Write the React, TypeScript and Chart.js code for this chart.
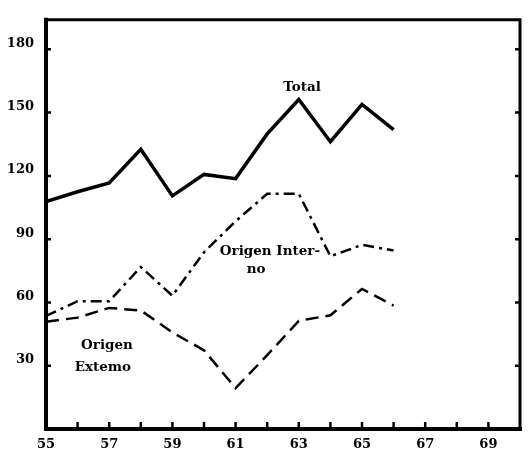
import React, { useEffect, useRef } from "react";
import { Chart, registerables } from "chart.js";

Chart.register(...registerables);

const years = [55, 56, 57, 58, 59, 60, 61, 62, 63, 64, 65, 66];
const total = [107.8, 112.5, 116.6, 132.6, 110.5, 120.7, 118.7, 139.9, 156.2, 136.2, 153.9, 141.9];
const interno = [53.6, 60.6, 60.6, 76.8, 63.2, 83.8, 98.5, 111.5, 111.5, 81.9, 87.3, 84.6];
const externo = [50.9, 52.8, 57.4, 56.2, 45.8, 37.3, 19.4, 35.0, 51.3, 53.9, 66.4, 58.5];
const yTicks = [30, 60, 90, 120, 150, 180];
const xTickYears = [56, 57, 58, 59, 60, 61, 62, 63, 64, 65, 66, 67, 68, 69];
const labels = [
  { text: "Total", x: 63.1, y: 162, align: "center" },
  { text: "Origen Inter-", x: 60.5, y: 84, align: "left" },
  { text: "no", x: 61.65, y: 75.5, align: "center" },
  { text: "Origen", x: 56.93, y: 39.8, align: "center" },
  { text: "Extemo", x: 56.8, y: 29, align: "center" },
];

const FONT = "'DejaVu Serif', 'Liberation Serif', serif";

const framePlugin = {
  id: "frame",
  afterDraw(chart: any) {
    const { ctx, chartArea: a, scales } = chart;
    const xs = scales.x;
    const ys = scales.y;
    ctx.save();
    ctx.strokeStyle = "#000";
    ctx.lineCap = "square";
    ctx.lineWidth = 4;
    ctx.beginPath();
    ctx.moveTo(a.left, a.top);
    ctx.lineTo(a.left, a.bottom);
    ctx.lineTo(a.right, a.bottom);
    ctx.stroke();
    ctx.lineWidth = 3;
    ctx.beginPath();
    ctx.moveTo(a.left, a.top);
    ctx.lineTo(a.right, a.top);
    ctx.lineTo(a.right, a.bottom);
    ctx.stroke();
    ctx.lineWidth = 2.5;
    ctx.lineCap = "butt";
    for (const v of xTickYears) {
      const px = xs.getPixelForValue(v);
      ctx.beginPath();
      ctx.moveTo(px, a.bottom);
      ctx.lineTo(px, a.bottom - 7);
      ctx.stroke();
    }
    for (const v of yTicks) {
      const py = ys.getPixelForValue(v);
      ctx.beginPath();
      ctx.moveTo(a.left, py);
      ctx.lineTo(a.left + 5, py);
      ctx.moveTo(a.right, py);
      ctx.lineTo(a.right - 5, py);
      ctx.stroke();
    }
    ctx.fillStyle = "#000";
    ctx.font = `bold 13.5px ${FONT}`;
    ctx.textBaseline = "middle";
    for (const l of labels) {
      ctx.textAlign = l.align as CanvasTextAlign;
      ctx.fillText(l.text, xs.getPixelForValue(l.x), ys.getPixelForValue(l.y));
    }
    ctx.restore();
  },
};

export default function App() {
  const ref = useRef<HTMLCanvasElement>(null);
  useEffect(() => {
    if (!ref.current) return;
    const mk = (arr: number[]) => years.map((x, i) => ({ x, y: arr[i] }));
    const chart = new Chart(ref.current, {
      type: "line",
      data: {
        datasets: [
          {
            label: "Total",
            data: mk(total),
            borderColor: "#000",
            borderWidth: 3.5,
            pointRadius: 0,
            tension: 0,
          },
          {
            label: "Origen Interno",
            data: mk(interno),
            borderColor: "#000",
            borderWidth: 2.5,
            borderDash: [11, 5, 3, 5],
            pointRadius: 0,
            tension: 0,
          },
          {
            label: "Origen Externo",
            data: mk(externo),
            borderColor: "#000",
            borderWidth: 2.5,
            borderDash: [13, 7],
            pointRadius: 0,
            tension: 0,
          },
        ],
      },
      options: {
        responsive: false,
        animation: false,
        layout: { padding: { top: 12, right: 9, left: 0, bottom: 0 } },
        plugins: { legend: { display: false }, tooltip: { enabled: false } },
        scales: {
          x: {
            type: "linear",
            min: 55,
            max: 70,
            afterFit: (s: any) => {
              s.height = 25;
            },
            grid: { display: false, drawTicks: false },
            border: { display: false },
            ticks: {
              stepSize: 1,
              padding: 8,
              color: "#000",
              font: { family: FONT, size: 13, weight: "bold" },
              callback: (v: any) => (v % 2 === 1 && v < 70 ? String(v) : ""),
              maxRotation: 0,
              autoSkip: false,
            },
          },
          y: {
            type: "linear",
            min: 0,
            max: 194,
            afterFit: (s: any) => {
              s.width = 46;
            },
            afterBuildTicks: (s: any) => {
              s.ticks = yTicks.map((v) => ({ value: v }));
            },
            grid: { display: false, drawTicks: false },
            border: { display: false },
            ticks: {
              padding: 12,
              labelOffset: -6,
              color: "#000",
              font: { family: FONT, size: 13, weight: "bold" },
            },
          },
        },
      },
      plugins: [framePlugin],
    } as any);
    return () => chart.destroy();
  }, []);
  return (
    <div style={{ position: "absolute", left: 0, top: 0, width: 529, height: 454, background: "#fff" }}>
      <canvas ref={ref} width={529} height={454} />
    </div>
  );
}
